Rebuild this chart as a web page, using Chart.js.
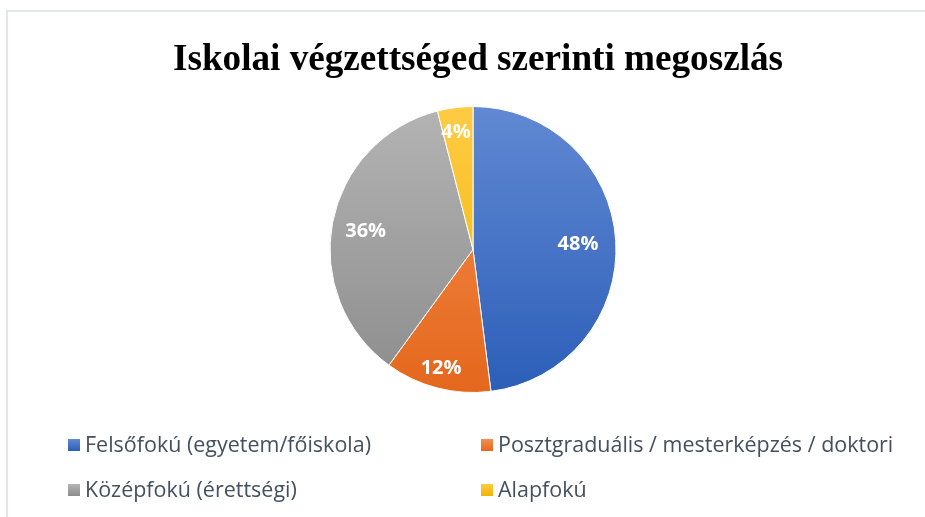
<!DOCTYPE html>
<html>
<head>
<meta charset="utf-8">
<script src="https://cdn.jsdelivr.net/npm/chart.js@4/dist/chart.umd.min.js"></script>
<style>
    html, body { margin: 0; padding: 0; background: #fff; }
    #wrap { position: relative; width: 925px; height: 517px; overflow: hidden; }
    #frame { position: absolute; left: 6px; top: 10px; width: 940px; height: 540px; border: 2px solid #e2e5ea; }
    #chart { position: absolute; left: 0; top: 0; }
</style>
</head>
<body>
<div id="wrap">
    <div id="frame"></div>
    <canvas id="chart" width="925" height="517"></canvas>
</div>
<script>
const chartTitle = 'Iskolai végzettséged szerinti megoszlás';
const categories = [
    'Felsőfokú (egyetem/főiskola)',
    'Posztgraduális / mesterképzés / doktori',
    'Középfokú (érettségi)',
    'Alapfokú'
];
const shares = [48, 12, 36, 4];

// top / bottom colours of each slice gradient
const topColors = ['#6189d3', '#f58f50', '#b4b4b4', '#ffcb45'];
const bottomColors = ['#2c5eb8', '#e4671c', '#8c8c8c', '#efb500'];

function sliceFill(ctx) {
    const chart = ctx.chart;
    const area = chart.chartArea;
    if (!area) return topColors[ctx.dataIndex];
    const g = chart.ctx.createLinearGradient(0, area.top, 0, area.bottom);
    g.addColorStop(0, topColors[ctx.dataIndex]);
    g.addColorStop(1, bottomColors[ctx.dataIndex]);
    return g;
}

// title drawn a bit narrower, like the original picture
const titlePlugin = {
    id: 'squeezedTitle',
    afterDraw(chart) {
        const c = chart.ctx;
        c.save();
        c.font = 'bold 38px "Liberation Serif"';
        c.fillStyle = '#000';
        c.textBaseline = 'alphabetic';
        const w = c.measureText(chartTitle).width;
        const sx = 610 / w;
        c.translate(478, 70);
        c.scale(sx, 1);
        c.textAlign = 'center';
        c.fillText(chartTitle, 0, 0);
        c.restore();
    }
};

// percentage labels inside slices
const labelPlugin = {
    id: 'sliceLabels',
    afterDatasetsDraw(chart) {
        const c = chart.ctx;
        const meta = chart.getDatasetMeta(0);
        c.save();
        c.font = 'bold 20px "Open Sans"';
        c.fillStyle = '#fff';
        c.textAlign = 'center';
        c.textBaseline = 'middle';
        meta.data.forEach((arc, i) => {
            const p = arc.getProps(['x', 'y', 'startAngle', 'endAngle', 'outerRadius'], true);
            const mid = (p.startAngle + p.endAngle) / 2;
            const f = shares[i] >= 30 ? 0.75 : 0.84;
            const x = p.x + Math.cos(mid) * p.outerRadius * f;
            const y = p.y + Math.sin(mid) * p.outerRadius * f;
            c.fillText(shares[i] + '%', x - 2, y + 2);
        });
        c.restore();
    }
};

// two column legend under the pie
const legendPlugin = {
    id: 'gridLegend',
    afterDraw(chart) {
        const c = chart.ctx;
        const colX = [68, 481];
        const rowY = [445, 490];
        c.save();
        c.font = '21px "Open Sans"';
        c.textBaseline = 'middle';
        const sx = 286 / c.measureText(categories[0]).width;
        categories.forEach((name, i) => {
            const x = colX[i % 2];
            const y = rowY[Math.floor(i / 2)];
            const g = c.createLinearGradient(0, y - 6, 0, y + 6);
            g.addColorStop(0, topColors[i]);
            g.addColorStop(1, bottomColors[i]);
            c.fillStyle = g;
            c.fillRect(x, y - 6, 12, 12);
            c.save();
            c.translate(x + 17, y + 1);
            c.scale(sx, 1);
            c.fillStyle = '#44505f';
            c.fillText(name, 0, 0);
            c.restore();
        });
        c.restore();
    }
};

new Chart(document.getElementById('chart'), {
    type: 'pie',
    data: {
        labels: categories,
        datasets: [{
            data: shares,
            backgroundColor: sliceFill,
            borderColor: '#ffffff',
            borderWidth: 1
        }]
    },
    options: {
        responsive: false,
        animation: false,
        layout: { padding: { left: 21, right: 0, top: 106, bottom: 124 } },
        plugins: {
            legend: { display: false },
            title: { display: false },
            tooltip: { enabled: false }
        }
    },
    plugins: [titlePlugin, labelPlugin, legendPlugin]
});
</script>
</body>
</html>
